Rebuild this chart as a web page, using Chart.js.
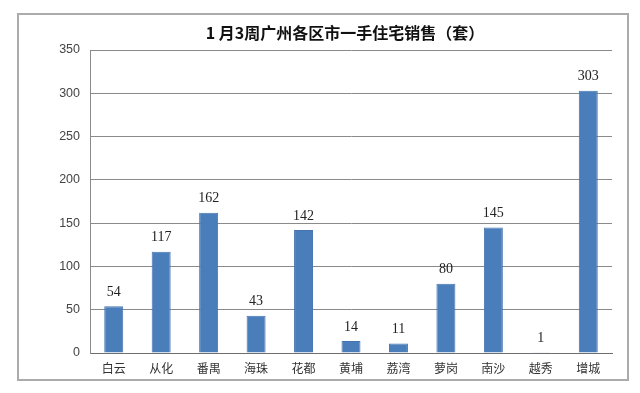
<!DOCTYPE html>
<html>
<head>
<meta charset="utf-8">
<script src="https://cdn.jsdelivr.net/npm/chart.js@4"></script>
<style>
html,body{margin:0;padding:0;background:#fff;}
#wrap{width:640px;height:393px;position:relative;}
</style>
</head>
<body>
<div id="wrap"><canvas id="c" width="640" height="393"></canvas></div>
<script>
const chartTitle = '1 月3周广州各区市一手住宅销售（套）';
const categories = ['白云','从化','番禺','海珠','花都','黄埔','荔湾','萝岗','南沙','越秀','增城'];
const sales = [54,117,162,43,142,14,11,80,145,1,303];
const yTicks = [0,50,100,150,200,250,300,350];

const framePlugin = {
  id: 'frame',
  beforeDraw(chart) {
    const ctx = chart.ctx;
    ctx.save();
    ctx.fillStyle = '#ffffff';
    ctx.fillRect(0, 0, chart.width, chart.height);
    ctx.strokeStyle = '#ababab';
    ctx.lineWidth = 2;
    ctx.strokeRect(18, 14, 610, 366);
    ctx.restore();
  },
  afterDraw(chart) {
    const ctx = chart.ctx;
    ctx.save();
    ctx.fillStyle = '#111';
    ctx.font = 'bold 16px "Noto Sans CJK SC", sans-serif';
    ctx.textAlign = 'center';
    ctx.textBaseline = 'middle';
    ctx.fillText(chartTitle, 345, 33);
    ctx.restore();
  }
};

const labelPlugin = {
  id: 'valueLabels',
  afterDatasetsDraw(chart) {
    const ctx = chart.ctx;
    const meta = chart.getDatasetMeta(0);
    ctx.save();
    ctx.fillStyle = '#222';
    ctx.font = '14px "Liberation Serif", serif';
    ctx.textAlign = 'center';
    ctx.textBaseline = 'middle';
    meta.data.forEach((bar, i) => {
      ctx.fillText(String(chart.data.datasets[0].data[i]), bar.x, bar.y - 14);
    });
    ctx.restore();
  }
};

new Chart(document.getElementById('c'), {
  type: 'bar',
  data: {
    labels: categories,
    datasets: [{
      data: sales,
      backgroundColor: '#4a7ebb',
      borderColor: '#4575b0',
      borderWidth: 1,
      categoryPercentage: 1,
      barPercentage: 0.4
    }]
  },
  options: {
    responsive: false,
    animation: false,
    events: [],
    layout: { padding: { left: 18, right: 28, top: 50, bottom: 0 } },
    plugins: { legend: { display: false }, tooltip: { enabled: false }, title: { display: false } },
    scales: {
      x: {
        grid: { display: false, drawTicks: false },
        border: { display: true, color: '#6e6e6e', width: 1 },
        ticks: { color: '#333', font: { family: '"Noto Sans CJK SC", sans-serif', size: 12 }, padding: 8, maxRotation: 0, autoSkip: false },
        afterFit(s) { s.height = 40; s.paddingLeft = 0; s.paddingRight = 0; }
      },
      y: {
        min: 0, max: 350,
        afterBuildTicks(s) { s.ticks = yTicks.map(v => ({ value: v })); },
        grid: { color: '#8a8a8a', lineWidth: 1, drawTicks: false },
        border: { display: true, color: '#8a8a8a', width: 1 },
        ticks: { color: '#444', font: { family: '"Liberation Sans", Arial, sans-serif', size: 12.5 }, padding: 10 },
        afterFit(s) { s.width = 72; s.paddingTop = 0; s.paddingBottom = 0; }
      }
    }
  },
  plugins: [framePlugin, labelPlugin]
});
</script>
</body>
</html>
